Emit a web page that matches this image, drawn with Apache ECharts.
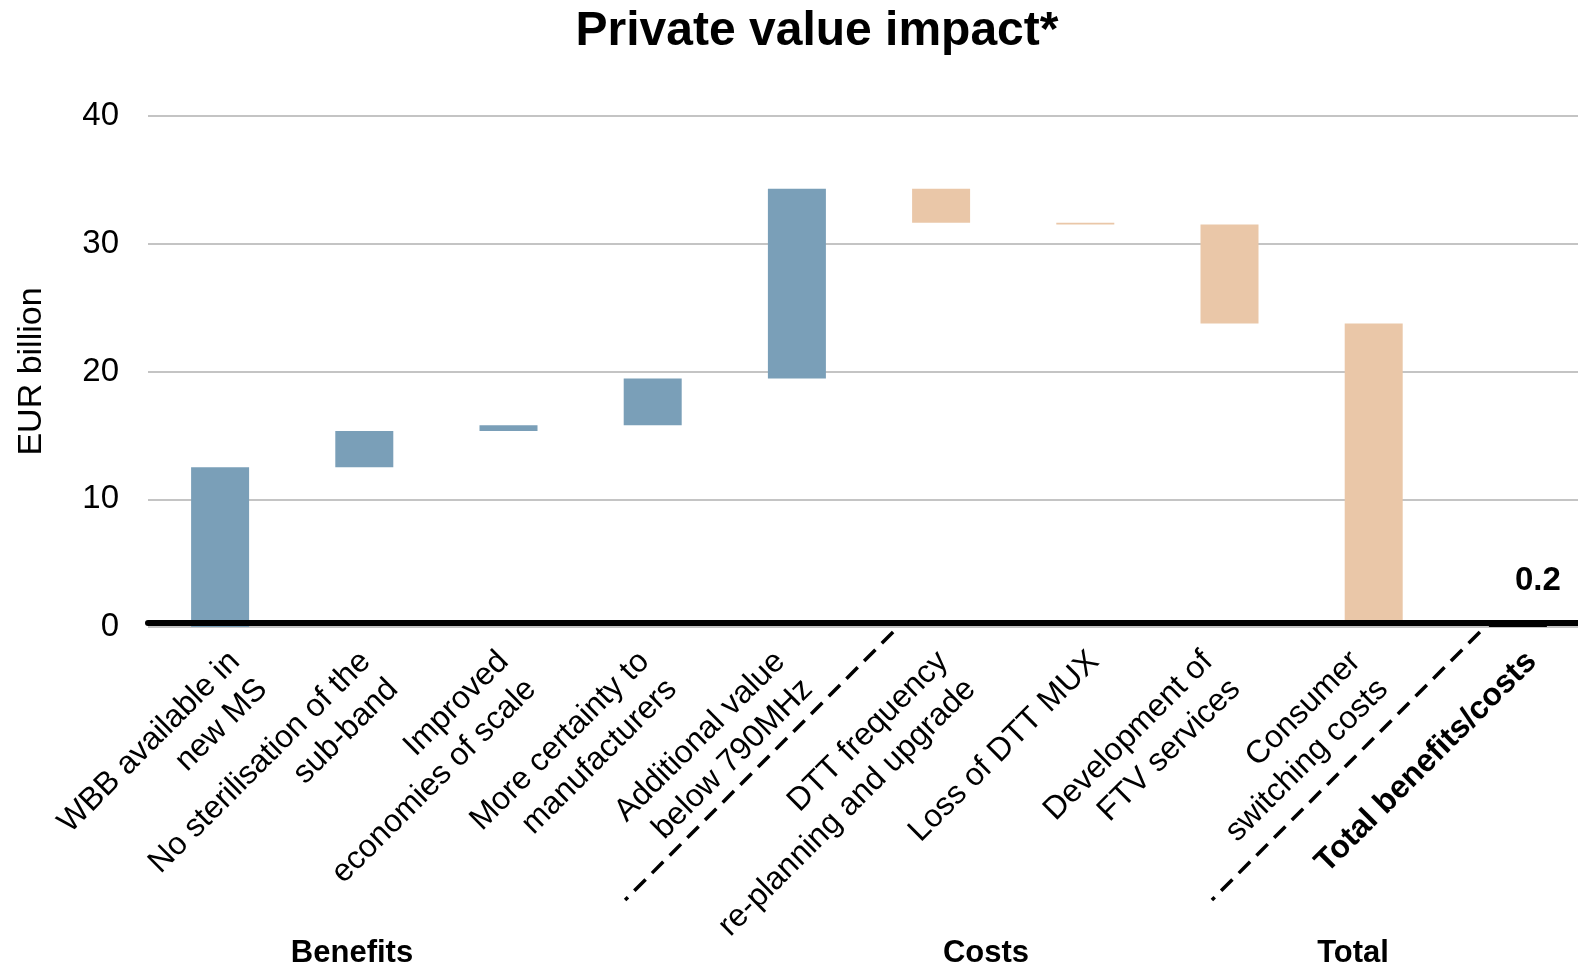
<!DOCTYPE html>
<html>
<head>
<meta charset="utf-8">
<script src="https://cdn.jsdelivr.net/npm/echarts@6/dist/echarts.min.js"></script>
<style>
  html, body { margin: 0; padding: 0; background: #ffffff; }
  #chart { width: 1578px; height: 966px; }
</style>
</head>
<body>
<div id="chart"></div>
<script>
// Waterfall of private value impact (EUR billion)
const categories = [
  'WBB available in\nnew MS',
  'No sterilisation of the\nsub-band',
  'Improved\neconomies of scale',
  'More certainty to\nmanufacturers',
  'Additional value\nbelow 790MHz',
  'DTT frequency\nre-planning and upgrade',
  'Loss of DTT MUX',
  'Development of\nFTV services',
  'Consumer\nswitching costs',
  'Total benefits/costs'
];
const benefitSteps = [12.5, 2.85, 0.45, 3.65, 14.85];
const costSteps = [-2.65, -0.15, -7.75, -23.55];
const totalValue = 0.2;
const yTicks = [0, 10, 20, 30, 40];
const groupLabels = ['Benefits', 'Costs', 'Total'];

// horizontal offset (px) of each rotated category label's end from its category centre
const labelNudge = [17.5, 4, -2.3, -5.7, -14.1, 4.6, 11.4, -19.1, -15.4, 16.4];

const FONT = '"Liberation Sans", Arial, sans-serif';
const BLUE = '#7a9fb8';
const PEACH = '#eac7a8';

// running totals -> floating bar bottoms and heights
const steps = benefitSteps.concat(costSteps);
const bases = [];
const heights = [];
let running = 0;
steps.forEach(function (s) {
  const next = running + s;
  bases.push(Math.min(running, next));
  heights.push({ value: Math.abs(s), itemStyle: { color: s >= 0 ? BLUE : PEACH } });
  running = next;
});
bases.push(0);
heights.push({
  value: totalValue,
  itemStyle: { color: '#000000' },
  label: {
    show: true, position: 'top', distance: 27, offset: [20, 0],
    formatter: function () { return String(totalValue); },
    fontFamily: FONT, fontSize: 33, fontWeight: 'bold', color: '#000'
  }
});

const chart = echarts.init(document.getElementById('chart'), null, { renderer: 'canvas' });

const option = {
  animation: false,
  backgroundColor: '#ffffff',
  title: {
    text: 'Private value impact*',
    left: 812, top: 3, textAlign: 'center',
    textStyle: { fontFamily: FONT, fontSize: 48, fontWeight: 'bold', color: '#000' }
  },
  // the plot runs past the right edge of the canvas
  grid: { left: 148, right: -12, top: 116, bottom: 339, outerBoundsMode: 'none', containLabel: false },
  xAxis: {
    type: 'category',
    data: categories,
    z: 10,
    offset: -4,
    axisLine: { show: true, lineStyle: { color: '#000', width: 6 } },
    axisTick: { show: false },
    axisLabel: { show: false }
  },
  yAxis: {
    type: 'value',
    min: yTicks[0],
    max: yTicks[yTicks.length - 1],
    interval: yTicks[1] - yTicks[0],
    name: 'EUR billion',
    nameLocation: 'middle',
    nameRotate: 90,
    nameGap: 99,
    nameTextStyle: { fontFamily: FONT, fontSize: 34, color: '#000' },
    axisLine: { show: false },
    axisTick: { show: false },
    axisLabel: { margin: 29, color: '#000', fontFamily: FONT, fontSize: 33 },
    splitLine: { show: true, lineStyle: { color: '#c4c4c4', width: 2 } }
  },
  series: [
    {
      type: 'bar', stack: 'wf', data: bases, barWidth: 58,
      itemStyle: { color: 'rgba(0,0,0,0)' }, silent: true
    },
    {
      type: 'bar', stack: 'wf', data: heights, barWidth: 58
    }
  ]
};
chart.setOption(option);

// 45° category labels, dashed separators between the groups, group captions
function drawDecor() {
  const y0 = chart.convertToPixel({ yAxisIndex: 0 }, 0);
  const cx = function (i) { return chart.convertToPixel({ xAxisIndex: 0 }, i); };
  const elems = [];

  categories.forEach(function (name, i) {
    elems.push({
      type: 'text', z: 15, silent: true,
      x: cx(i) + labelNudge[i] - 16.5,
      y: y0 + 16,
      rotation: Math.PI / 4,
      style: {
        text: name, fill: '#000',
        fontFamily: FONT, fontSize: 32,
        fontWeight: i === categories.length - 1 ? 'bold' : 'normal',
        lineHeight: 39, align: 'right', verticalAlign: 'top'
      }
    });
  });

  const sepTops = [cx(5) - 48, cx(9) - 38];
  const len = 268;
  sepTops.forEach(function (x) {
    elems.push({
      type: 'line', z: 20, silent: true,
      shape: { x1: x, y1: y0 + 5, x2: x - len, y2: y0 + 5 + len },
      style: { stroke: '#000', lineWidth: 3.5, lineDash: [16, 9] }
    });
  });

  const capX = [352, 986, 1353];
  groupLabels.forEach(function (t, k) {
    elems.push({
      type: 'text', z: 20, silent: true,
      x: capX[k], y: 953,
      style: { text: t, fill: '#000', font: 'bold 31px ' + FONT, align: 'center', verticalAlign: 'middle' }
    });
  });
  chart.setOption({ graphic: elems });
}
drawDecor();
</script>
</body>
</html>
